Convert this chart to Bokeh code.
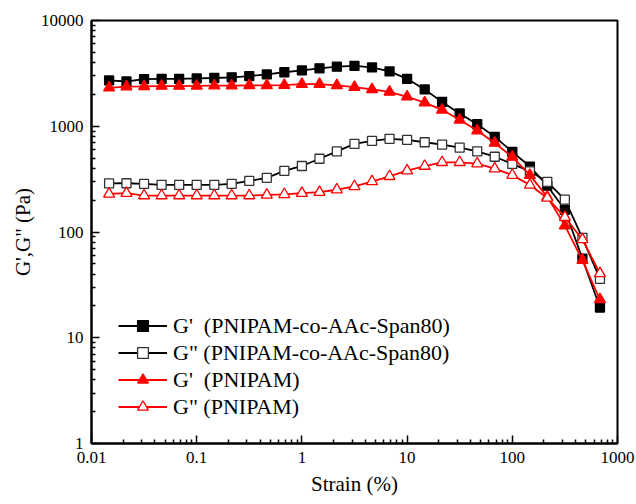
from bokeh.plotting import figure
from bokeh.models import Legend, LegendItem, FixedTicker
from bokeh.embed import file_html
from bokeh.resources import INLINE

# ---- data ----
strain = [0.0147, 0.0215, 0.0316, 0.0464, 0.0681, 0.1, 0.147, 0.215, 0.316, 0.464,
          0.681, 1.0, 1.47, 2.15, 3.16, 4.64, 6.81, 10.0, 14.7, 21.5,
          31.6, 46.4, 68.1, 100.0, 147.0, 215.0, 316.0, 464.0, 681.0]

gp_copolymer = [2710, 2650, 2790, 2800, 2800, 2830, 2860, 2900, 2980, 3090,
                3240, 3370, 3530, 3660, 3730, 3600, 3300, 2810, 2230, 1700,
                1320, 1045, 795, 573, 416, 274, 162, 56, 19.3]

gpp_copolymer = [288, 289, 285, 279, 279, 279, 279, 285, 304, 325,
                 378, 421, 493, 578, 681, 727, 760, 743, 706, 670,
                 628, 578, 515, 440, 375, 298, 202, 88, 36]

gp_pnipam = [2310, 2370, 2380, 2400, 2400, 2410, 2420, 2420, 2430, 2430,
             2450, 2500, 2500, 2430, 2340, 2230, 2110, 1900, 1670, 1430,
             1150, 910, 695, 512, 345, 215, 115, 54, 23]

gpp_pnipam = [229, 233, 221, 221, 221, 221, 221, 221, 221, 224,
              227, 233, 238, 251, 270, 300, 336, 380, 420, 456,
              456, 443, 397, 345, 278, 210, 138, 85, 40.5]

series_labels = ["G'\u00a0\u00a0(PNIPAM-co-AAc-Span80)",
                 'G" (PNIPAM-co-AAc-Span80)',
                 "G'\u00a0\u00a0(PNIPAM)",
                 'G" (PNIPAM)']

x_ticks = [0.01, 0.1, 1, 10, 100, 1000]
x_tick_labels = ["0.01", "0.1", "1", "10", "100", "1000"]
y_ticks = [1, 10, 100, 1000, 10000]
y_tick_labels = ["1", "10", "100", "1000", "10000"]

FONT = "'Liberation Serif', 'Times New Roman', serif"

p = figure(width=636, height=504, x_axis_type="log", y_axis_type="log",
           x_range=(0.01, 1000), y_range=(1, 10000),
           output_backend="svg", toolbar_location=None,
           min_border_left=91, min_border_right=19, min_border_top=20,
           min_border_bottom=61)

p.grid.visible = False
p.outline_line_color = "black"
p.outline_line_width = 2
p.background_fill_color = "white"

x_minor = [m * 10.0 ** e for e in range(-2, 3) for m in range(2, 10)]
y_minor = [m * 10.0 ** e for e in range(0, 4) for m in range(2, 10)]
p.xaxis.ticker = FixedTicker(ticks=x_ticks, minor_ticks=x_minor)
p.yaxis.ticker = FixedTicker(ticks=y_ticks, minor_ticks=y_minor)
p.xaxis.major_label_overrides = dict(zip(x_ticks, x_tick_labels))
p.yaxis.major_label_overrides = dict(zip(y_ticks, y_tick_labels))

for ax in (p.xaxis[0], p.yaxis[0]):
    ax.axis_line_width = 2
    ax.axis_line_color = "black"
    ax.major_tick_in = 8
    ax.major_tick_out = 0
    ax.minor_tick_in = 4
    ax.minor_tick_out = 0
    ax.major_tick_line_width = 1.5
    ax.minor_tick_line_width = 1.5
    ax.major_label_text_font = FONT
    ax.major_label_text_font_size = "17px"
    ax.major_label_text_color = "black"
    ax.axis_label_text_font = FONT
    ax.axis_label_text_font_size = "21px"
    ax.axis_label_text_font_style = "normal"
    ax.axis_label_text_color = "black"

p.xaxis.axis_label = "Strain (%)"
p.yaxis.axis_label = 'G\',G" (Pa)'
p.xaxis.major_label_standoff = 8
p.xaxis.axis_label_standoff = 6
p.yaxis.major_label_standoff = 8
p.yaxis.axis_label_standoff = 3

specs = [
    (gp_copolymer, "black", "square", "black", "black", 9),
    (gpp_copolymer, "black", "square", "white", "#333333", 9),
    (gp_pnipam, "red", "triangle", "red", "red", 11),
    (gpp_pnipam, "red", "triangle", "white", "red", 11),
]

items = []
for (vals, lc, marker, fc, mc, sz), lab in zip(specs, series_labels):
    l = p.line(strain, vals, line_color=lc, line_width=1.8)
    s = p.scatter(strain, vals, marker=marker, size=sz, fill_color=fc,
                  line_color=mc, line_width=1.3)
    items.append(LegendItem(label=lab, renderers=[l, s]))

legend = Legend(items=items, location=(27, 23))
legend.padding = 0
legend.margin = 0
legend.spacing = 0
legend.glyph_width = 49
legend.glyph_height = 27
legend.label_height = 27
legend.label_standoff = 6
legend.label_text_font = FONT
legend.label_text_font_size = "22px"
legend.label_text_color = "black"
legend.background_fill_alpha = 0
legend.border_line_alpha = 0
p.add_layout(legend, "center")

open("out.html", "w").write(file_html(p, INLINE))
